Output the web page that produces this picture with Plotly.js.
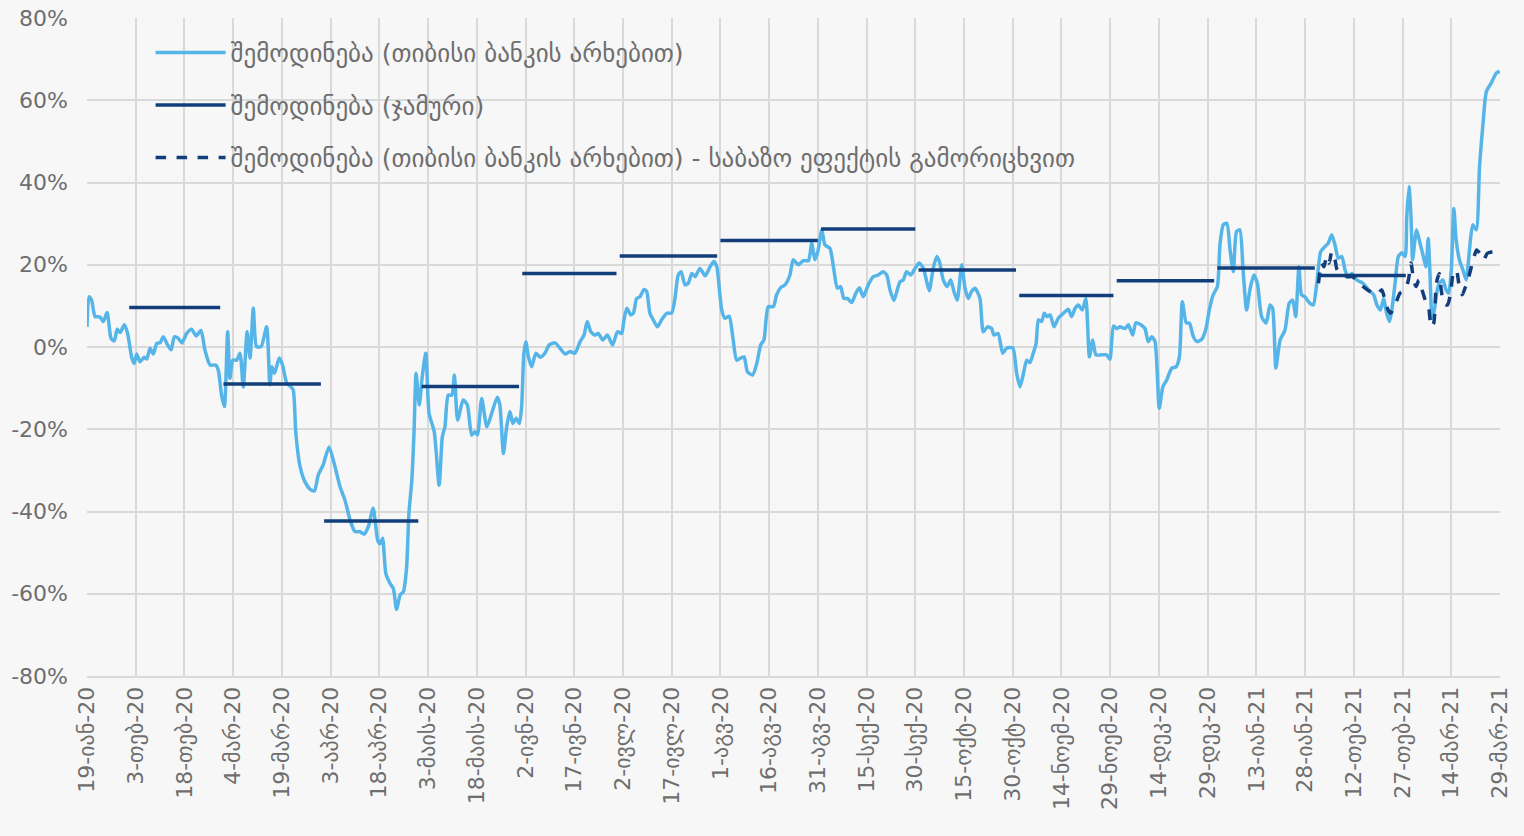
<!DOCTYPE html>
<html><head><meta charset="utf-8">
<script src="https://cdn.plot.ly/plotly-3.0.1.min.js"></script>
<style>html,body{margin:0;padding:0;background:#f7f7f7}</style>
</head><body><div id="chart" style="width:1524px;height:836px"></div>
<script>
// days counted from 19-Jan-2020
const startDate = Date.UTC(2020, 0, 19);

// შემოდინება (თიბისი ბანკის არხებით)
const inflowDay = [0,0.6,1.4,2.5,4.0,5.0,6.2,7.4,8.4,9.3,10.2,11.5,12.5,13.8,14.5,15.3,16.3,17.6,18.4,19.4,20.4,21.5,22.5,23.5,24.8,25.9,26.9,28.1,29.2,30.7,32.2,33.6,35.1,36.3,37.9,39.6,40.4,41.5,42.3,43.3,44.0,44.9,46.1,47.1,48.1,49.3,50.2,51.2,52.2,53.6,55.3,56.3,56.9,57.7,59.2,60.2,61.5,62.8,63.5,64.3,65.6,67.1,68.7,70.0,71.2,72.7,74.5,76.1,77.9,79.4,81.0,82.5,84.0,85.3,86.6,88.1,89.5,90.2,91.0,92.0,93.3,94.3,95.3,96.4,97.4,98.4,99.1,100.0,100.7,101.3,102.3,103.2,104.3,105.3,106.9,108.4,109.4,110.2,111.2,112.3,113.1,114.1,115.8,117.1,118.4,119.4,120.2,121.5,123.1,124.6,126.3,127.1,128.2,129.2,130.2,131.1,132.1,133.1,133.8,134.5,135.1,135.9,136.9,138.2,139.5,141.0,142.3,144.1,145.6,147.2,148.7,150.2,151.8,153.0,154.0,155.1,156.4,157.4,158.8,160.2,161.8,163.3,164.6,165.3,166.2,167.4,168.2,169.2,170.2,171.5,172.3,173.3,174.6,175.6,176.9,178.5,180.0,181.0,182.0,182.9,184.1,185.1,186.2,187.2,188.7,190.3,191.8,193.0,193.9,194.7,195.4,196.4,197.7,198.8,200.0,201.2,202.3,203.3,204.9,206.2,207.4,208.4,209.7,211.3,212.3,213.6,214.9,216.4,217.4,219.0,220.5,222.1,223.1,224.1,225.1,226.2,227.2,228.7,229.8,231.0,232.0,233.0,234.1,235.4,236.7,237.8,239.0,240.5,242.1,243.6,245.1,246.2,247.2,248.4,249.3,250.3,251.3,252.3,253.6,254.9,256.2,257.5,258.5,259.3,260.5,261.6,262.4,263.6,264.8,265.9,266.9,267.9,269.3,270.3,271.3,272.3,273.4,274.9,275.9,277.2,278.5,279.2,280.5,281.9,283.1,285.0,286.2,287.2,288.2,289.3,290.3,291.3,292.2,292.9,293.9,294.7,295.6,296.5,297.7,299.0,300.6,302.1,303.1,304.2,305.2,306.4,307.5,308.6,309.6,310.6,312.4,313.9,314.9,316.0,317.0,318.0,319.6,320.6,321.9,322.9,324.4,325.7,326.7,327.8,328.8,330.1,331.2,332.4,333.9,335.3,336.3,337.2,338.4,339.4,340.6,341.8,343.2,344.5,345.5,346.7,348.0,348.8,349.8,350.9,351.9,352.9,353.9,354.9,355.9,357.0,358.0,359.2,360.3,361.6,363.0,364.2,365.0,366.0,367.3,368.8,370.1,371.2,372.1,373.1,373.9,374.9,376.5,377.5,378.6,379.8,381.1,382.1,383.2,384.2,385.2,386.3,387.3,388.3,389.4,390.9,392.8,394.5,396.1,397.1,398.2,399.2,400.1,401.0,401.7,402.7,403.7,404.8,405.8,406.3,407.0,407.6,408.1,408.8,409.3,410.4,411.4,412.2,412.9,413.4,414.1,414.8,415.5,416.3,417.4,418.4,419.2,420.0,420.8,421.5,422.5,423.6,424.6,425.6,426.6,427.7,428.7,429.7,430.8,432.3,433.9,434.9];
const inflowValue = [4.9,12.2,11.4,7.4,7.3,6.2,8.4,2.1,1.5,4.3,3.5,5.4,3.3,-2.7,-4.0,-1.7,-3.6,-2.5,-2.9,-0.3,-1.7,0.9,1.0,2.5,0.5,-0.7,2.5,2.1,1.0,3.3,4.3,2.7,4.0,-0.7,-4.4,-4.4,-5.6,-12.1,-14.5,3.7,-7.6,-3.2,-3.2,-1.5,-9.7,3.7,-2.7,9.4,0.1,0.1,4.9,-9.2,-4.8,-6.4,-2.7,-4.4,-8.8,-9.7,-10.5,-21.0,-29.1,-32.8,-34.6,-35.0,-31.1,-28.7,-24.3,-28.3,-34.0,-37.2,-42.1,-44.9,-44.9,-45.5,-43.7,-39.2,-47.0,-47.8,-46.5,-55.1,-57.5,-58.7,-63.8,-60.3,-59.5,-53.5,-40.5,-32.4,-20.2,-6.4,-14.1,-7.2,-1.5,-16.1,-20.6,-33.6,-21.8,-19.4,-11.7,-11.7,-6.8,-17.8,-12.9,-14.1,-21.4,-20.6,-21.4,-12.5,-19.4,-16.1,-12.2,-14.1,-25.9,-19.4,-15.7,-18.6,-17.3,-18.6,-14.5,-1.5,1.3,-2.4,-4.8,-1.5,-2.5,-1.5,0.5,1.0,-0.3,-1.7,-1.1,-1.5,1.3,2.9,6.2,3.7,2.9,3.3,1.7,2.9,0.5,3.7,3.3,6.6,9.4,7.8,8.2,11.8,12.2,14.0,13.5,8.2,6.2,4.9,6.6,8.2,8.3,11.8,17.5,18.3,15.1,15.5,17.9,17.1,19.1,17.3,19.5,20.8,19.5,13.9,9.0,7.0,7.5,2.5,-3.2,-2.7,-2.4,-6.0,-6.8,-4.0,0.5,1.7,9.8,9.8,12.7,14.5,15.1,17.5,21.2,20.0,21.0,21.0,25.2,21.2,23.6,28.5,24.8,24.0,19.5,14.3,14.7,11.8,11.8,10.8,13.1,14.4,12.2,15.1,17.1,17.5,18.3,17.5,13.9,11.3,13.5,15.9,16.3,18.3,17.5,19.1,20.4,19.1,15.9,13.7,19.1,22.0,20.8,16.3,14.7,16.3,13.5,11.4,20.0,14.3,11.8,13.5,14.3,11.8,3.7,4.9,4.5,2.9,3.3,-1.5,-0.3,-0.2,-6.4,-9.7,-6.8,-3.2,-3.8,-1.5,0.9,6.6,6.2,8.2,7.4,7.8,4.9,7.0,8.2,9.2,7.4,9.4,10.2,9.0,11.8,-2.4,1.7,-1.9,-1.9,-1.9,-3.0,5.1,4.5,4.9,4.5,5.4,2.9,5.9,5.4,4.5,1.3,2.5,1.3,-14.9,-9.7,-8.0,-5.2,-4.8,-2.4,11.0,5.9,5.8,2.5,1.3,1.9,4.5,9.0,12.7,14.7,25.0,29.7,30.1,23.6,18.3,28.1,28.5,18.7,9.0,13.9,17.5,15.5,7.4,5.8,10.2,9.4,-5.1,1.7,4.1,10.6,11.4,7.4,19.5,12.7,12.2,10.6,10.2,15.5,23.2,24.4,25.2,27.3,24.8,21.6,22.0,18.7,17.1,17.9,16.3,15.5,13.9,12.7,10.2,9.0,11.8,8.2,6.2,9.0,15.5,22.0,22.9,22.0,31.7,39.0,31.7,21.2,26.0,28.5,25.2,22.0,19.5,26.4,18.7,7.0,9.0,13.1,15.5,16.3,13.9,13.1,18.7,33.7,26.0,21.2,18.7,16.3,23.6,29.7,28.5,43.9,53.6,62.1,64.2,66.6,67.0];

// შემოდინება (ჯამური) - monthly
const monthFirst = ['2020-02-01','2020-03-01','2020-04-01','2020-05-01','2020-06-01','2020-07-01','2020-08-01','2020-09-01','2020-10-01','2020-11-01','2020-12-01','2021-01-01','2021-02-01'];
const monthLast  = ['2020-02-29','2020-03-31','2020-04-30','2020-05-31','2020-06-30','2020-07-31','2020-08-31','2020-09-30','2020-10-31','2020-11-30','2020-12-31','2021-01-31','2021-02-28'];
const monthValue = [9.6,-9.0,-42.3,-9.6,17.9,22.1,25.9,28.7,18.7,12.5,16.1,19.2,17.4];

// შემოდინება (თიბისი ბანკის არხებით) - საბაზო ეფექტის გამორიცხვით
const adjDay = [379.1,380.1,380.8,381.6,382.4,383.2,384.2,384.9,386.3,387.8,389.4,390.9,392.9,395.0,397.1,398.6,400.1,401.3,402.7,404.2,405.8,406.8,407.6,408.4,409.2,410.0,411.0,412.0,413.0,413.8,414.6,415.4,416.3,416.9,417.7,418.8,419.8,420.6,421.6,422.3,423.4,424.4,425.4,426.5,427.8,428.8,430.0,431.1,432.9,434.4];
const adjValue = [15.5,20.4,19.5,22.0,20.4,23.2,21.2,18.7,18.3,17.1,17.1,16.3,14.7,13.5,12.7,13.9,9.8,8.2,10.2,13.1,13.9,16.3,20.4,16.3,14.7,16.3,13.9,11.4,9.8,4.9,5.8,15.5,17.9,13.9,10.6,10.2,13.1,17.9,18.7,15.5,12.7,14.7,17.1,20.4,23.6,22.8,21.2,22.8,23.2,23.2];

const tickDates = ['2020-01-19','2020-02-03','2020-02-18','2020-03-04','2020-03-19','2020-04-03','2020-04-18','2020-05-03','2020-05-18','2020-06-02','2020-06-17','2020-07-02','2020-07-17','2020-08-01','2020-08-16','2020-08-31','2020-09-15','2020-09-30','2020-10-15','2020-10-30','2020-11-14','2020-11-29','2020-12-14','2020-12-29','2021-01-13','2021-01-28','2021-02-12','2021-02-27','2021-03-14','2021-03-29'];
const tickLabels = ['19-იან-20','3-თებ-20','18-თებ-20','4-მარ-20','19-მარ-20','3-აპრ-20','18-აპრ-20','3-მაის-20','18-მაის-20','2-ივნ-20','17-ივნ-20','2-ივლ-20','17-ივლ-20','1-აგვ-20','16-აგვ-20','31-აგვ-20','15-სექ-20','30-სექ-20','15-ოქტ-20','30-ოქტ-20','14-ნოემ-20','29-ნოემ-20','14-დეკ-20','29-დეკ-20','13-იან-21','28-იან-21','12-თებ-21','27-თებ-21','14-მარ-21','29-მარ-21'];

const yTickValues = [-80,-60,-40,-20,0,20,40,60,80];
const yTickLabels = ['-80%','-60%','-40%','-20%','0%','20%','40%','60%','80%'];

const seriesNames = ['შემოდინება (თიბისი ბანკის არხებით)','შემოდინება (ჯამური)','შემოდინება (თიბისი ბანკის არხებით) - საბაზო ეფექტის გამორიცხვით'];

function dayToDate(d){
  const t = new Date(startDate + d*86400000);
  return t.toISOString().slice(0,19).replace('T',' ');
}

const mx = [], my = [];
monthFirst.forEach((f,i)=>{ mx.push(f, monthLast[i], monthLast[i]); my.push(monthValue[i], monthValue[i], null); });

const lightBlue = '#56b5e8';
const navy = '#123f7b';
const FONT = '"DejaVu Sans", sans-serif';
const GREY = '#6e6e6e';

const traces = [
  {x: inflowDay.map(dayToDate), y: inflowValue, name: seriesNames[0], type:'scatter', mode:'lines',
   line:{color:lightBlue, width:3.5, shape:'spline', smoothing:0.6}, legendgroup:'a'},
  {x: mx, y: my, name: seriesNames[1], type:'scatter', mode:'lines', connectgaps:false,
   line:{color:navy, width:3.5}, legendgroup:'b'},
  {x: adjDay.map(dayToDate), y: adjValue, name: seriesNames[2], type:'scatter', mode:'lines',
   line:{color:navy, width:3.5, dash:'dash', shape:'spline', smoothing:0.6}, legendgroup:'c'}
];

const layout = {
  width:1524, height:836,
  paper_bgcolor:'#f7f7f7', plot_bgcolor:'#f7f7f7',
  margin:{l:87, r:24, t:18, b:160},
  font:{family:FONT, color:GREY, size:20},
  showlegend:true,
  hovermode:false,
  legend:{x:0.045, y:0.982, xanchor:'left', yanchor:'top', bgcolor:'rgba(0,0,0,0)',
          font:{family:FONT, size:25, color:GREY}, tracegroupgap:17, itemwidth:70, traceorder:'grouped'},
  xaxis:{type:'date', range:['2020-01-19','2021-03-29'], tickmode:'array', tickvals:tickDates, ticktext:tickLabels,
         tickangle:-90, tickfont:{family:FONT, size:22, color:GREY}, showgrid:true, gridcolor:'#d9d9d9', gridwidth:2,
         showline:true, linecolor:'#d9d9d9', linewidth:2, ticks:'', zeroline:false, fixedrange:true},
  yaxis:{range:[-80,80], tickmode:'array', tickvals:yTickValues, ticktext:yTickLabels,
         tickfont:{family:FONT, size:22, color:GREY}, ticklabelstandoff:18,
         showgrid:true, gridcolor:'#d9d9d9', gridwidth:2, zeroline:false, showline:false, ticks:'', fixedrange:true}
};

Plotly.newPlot('chart', traces, layout, {displayModeBar:false, staticPlot:true});
</script>
</body></html>
